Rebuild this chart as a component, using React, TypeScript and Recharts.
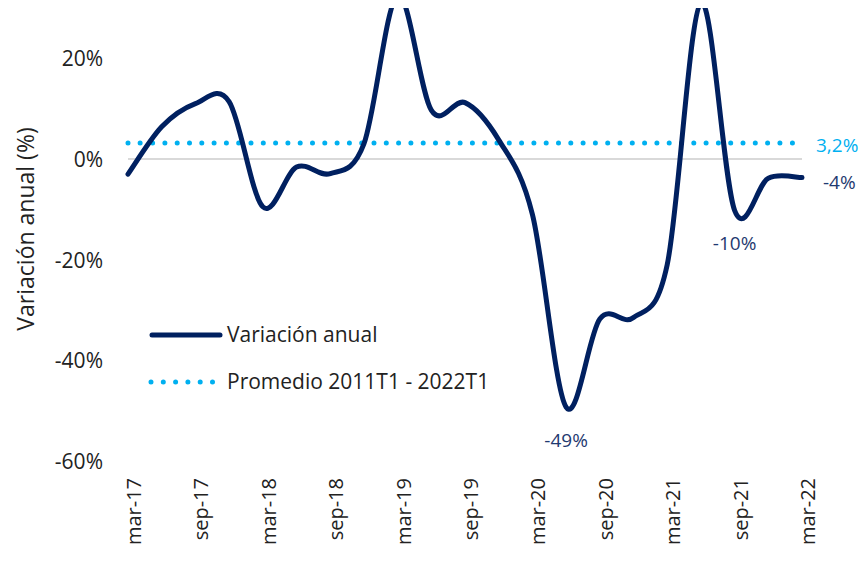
import React from "react";
import { LineChart, Line, XAxis, YAxis, ReferenceLine, Legend, LabelList } from "recharts";

// quarterly data, mar-17 .. mar-22
const quarters = [
  "mar-17", "jun-17", "sep-17", "dic-17",
  "mar-18", "jun-18", "sep-18", "dic-18",
  "mar-19", "jun-19", "sep-19", "dic-19",
  "mar-20", "jun-20", "sep-20", "dic-20",
  "mar-21", "jun-21", "sep-21", "dic-21",
  "mar-22",
];
const variacion = [
  -3, 6.4, 11, 11.4,
  -9.5, -1.6, -2.9, 3,
  32.5, 9.7, 11.2, 3.8,
  -11, -49.3, -31.8, -31.5,
  -21, 31, -10.2, -3.8,
  -3.7,
];
const promedio = 3.2;
const notes = [
  "", "", "", "", "", "", "", "", "", "", "", "",
  "", "-49%", "", "", "", "", "-10%", "", "-4%",
];
const yTicks = [-60, -40, -20, 0, 20];

const NAVY = "#002060";
const SKY = "#00b0f0";
const FONT = "'Open Sans', sans-serif";

const data = quarters.map((q, i) => ({
  q,
  value: variacion[i],
  avg: promedio,
  note: notes[i],
  avgNote: i === quarters.length - 1 ? "3,2%" : "",
}));

// Excel-like smoothing (catmull-rom through the points)
const excelCurve = (context: any) => {
  let pts: number[][] = [];
  return {
    areaStart() {},
    areaEnd() {},
    lineStart() {
      pts = [];
    },
    point(x: number, y: number) {
      pts.push([+x, +y]);
    },
    lineEnd() {
      if (!pts.length) return;
      context.moveTo(pts[0][0], pts[0][1]);
      for (let i = 0; i < pts.length - 1; i++) {
        const p0 = pts[i - 1] || pts[i];
        const p1 = pts[i];
        const p2 = pts[i + 1];
        const p3 = pts[i + 2] || pts[i + 1];
        context.bezierCurveTo(
          p1[0] + (p2[0] - p0[0]) / 6,
          p1[1] + (p2[1] - p0[1]) / 6,
          p2[0] - (p3[0] - p1[0]) / 6,
          p2[1] - (p3[1] - p1[1]) / 6,
          p2[0],
          p2[1]
        );
      }
    },
  };
};

const YTick = ({ y, payload }: any) => (
  <text x={103} y={y} textAnchor="end" dominantBaseline="central" fontSize={21} fill="#222" fontFamily={FONT}>
    {`${payload.value}%`}
  </text>
);

const XTick = ({ x, payload }: any) => (
  <text
    x={x}
    y={478}
    dy={13}
    textAnchor="end"
    transform={`rotate(-90, ${x}, 478)`}
    fontSize={20}
    fill="#222"
    fontFamily={FONT}
  >
    {payload.value}
  </text>
);

const NoteLabel = ({ x, y, value, index }: any) => {
  if (!value) return null;
  const last = index === quarters.length - 1;
  return (
    <text
      x={last ? x + 21 : x}
      y={last ? y + 4 : y + 33}
      textAnchor={last ? "start" : "middle"}
      dominantBaseline="central"
      fontSize={19}
      fill="#1f3a70"
      fontFamily={FONT}
    >
      {value}
    </text>
  );
};

const AvgLabel = ({ x, y, value }: any) => {
  if (!value) return null;
  return (
    <text x={x + 14} y={y + 2} dominantBaseline="central" fontSize={19} fill={SKY} fontFamily={FONT}>
      {value}
    </text>
  );
};

const LegendBox = () => (
  <div style={{ fontFamily: FONT, fontSize: 21, color: "#222", lineHeight: "47px" }}>
    <div style={{ display: "flex", alignItems: "center" }}>
      <svg width={79} height={10}>
        <line x1={4} y1={5} x2={72} y2={5} stroke={NAVY} strokeWidth={5} strokeLinecap="round" />
      </svg>
      <span>Variación anual</span>
    </div>
    <div style={{ display: "flex", alignItems: "center" }}>
      <svg width={79} height={10}>
        <line x1={3} y1={5} x2={70} y2={5} stroke={SKY} strokeWidth={5} strokeLinecap="round" strokeDasharray="0 12.3" />
      </svg>
      <span>Promedio 2011T1 - 2022T1</span>
    </div>
  </div>
);

export default function App() {
  return (
    <div style={{ position: "absolute", left: 0, top: 0, width: 860, height: 561, background: "#fff" }}>
      <LineChart width={860} height={561} data={data} margin={{ top: 8, right: 58, bottom: 0, left: 0 }}>
        <XAxis
          dataKey="q"
          interval={1}
          height={100}
          axisLine={false}
          tickLine={false}
          tick={<XTick />}
          padding={{ left: 0, right: 0 }}
        />
        <YAxis
          width={128}
          domain={[-60, 30]}
          ticks={yTicks}
          allowDataOverflow
          axisLine={false}
          tickLine={false}
          tick={<YTick />}
        />
        <ReferenceLine y={0} stroke="#d9d9d9" strokeWidth={2} />
        <Line
          dataKey="avg"
          type={excelCurve as any}
          stroke={SKY}
          strokeWidth={5}
          strokeLinecap="round"
          strokeDasharray="0 12.3"
          dot={false}
          activeDot={false}
          isAnimationActive={false}
        >
          <LabelList dataKey="avgNote" content={<AvgLabel />} />
        </Line>
        <Line
          dataKey="value"
          type={excelCurve as any}
          stroke={NAVY}
          strokeWidth={5}
          strokeLinecap="round"
          dot={false}
          activeDot={false}
          isAnimationActive={false}
        >
          <LabelList dataKey="note" content={<NoteLabel />} />
        </Line>
        <Legend
          layout="horizontal"
          verticalAlign="middle"
          align="center"
          wrapperStyle={{ left: 148, top: 311, width: 400 }}
          content={<LegendBox />}
        />
      </LineChart>
      <svg style={{ position: "absolute", left: 0, top: 0 }} width={60} height={561}>
        <text
          x={25}
          y={229}
          textAnchor="middle"
          dominantBaseline="central"
          transform="rotate(-90, 25, 229)"
          fontSize={23}
          fill="#222"
          fontFamily={FONT}
        >
          Variación anual (%)
        </text>
      </svg>
    </div>
  );
}
